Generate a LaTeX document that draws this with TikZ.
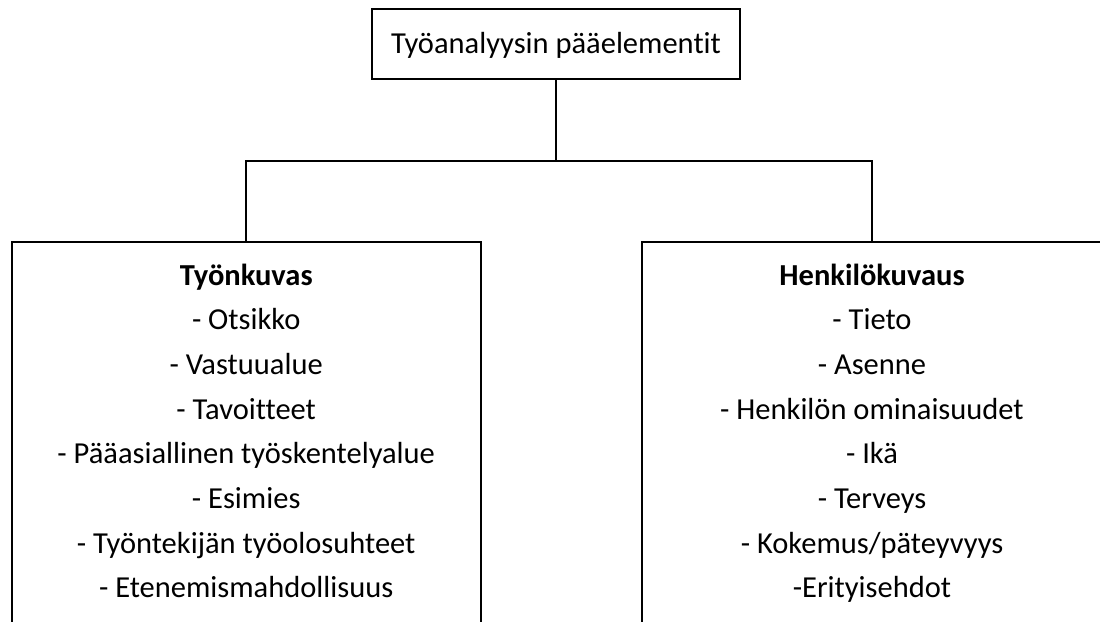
\documentclass[tikz,border=0pt]{standalone}
\usepackage{fontspec}
\setmainfont{Carlito}[Ligatures=NoCommon]
\begin{document}
\begin{tikzpicture}[x=1pt,y=-1pt,
  boxline/.style={draw=black,line width=2.2pt},
  txt/.style={inner sep=0pt,anchor=base,font=\fontsize{30.5}{34}\selectfont},
  ttl/.style={txt,font=\fontsize{30.5}{34}\selectfont\bfseries}]
\useasboundingbox (0,0) rectangle (1100,621);
\clip (0,0) rectangle (1100,621);
\fill[white] (0,0) rectangle (1100,621);
\node[boxline,rectangle,minimum width=368pt,minimum height=70pt,inner sep=0pt] (top) at (556,44) {};
\node[txt] (toptxt) at (556,53) {Työanalyysin pääelementit};
\node[boxline,rectangle,anchor=north,minimum width=469pt,minimum height=500pt,inner sep=0pt] (left) at (246.2,240.7) {};
\node[boxline,rectangle,anchor=north,minimum width=460pt,minimum height=500pt,inner sep=0pt] (right) at (872,240.7) {};
\coordinate (j) at (556,161);
\draw[boxline] (top.south) -- (j);
\draw[boxline] (left.north) -- (left.north |- j) -- (right.north |- j) -- (right.north);
\node[ttl] (L0) at (246.2,285) {Työnkuvas};
\foreach \t [count=\i] in {- Otsikko,- Vastuualue,- Tavoitteet,- Pääasiallinen työskentelyalue,- Esimies,- Työntekijän työolosuhteet,- Etenemismahdollisuus}
  \node[txt] (L\i) at (246.2,285+44.7*\i) {\t};
\node[ttl] (R0) at (872,285) {Henkilökuvaus};
\foreach \t [count=\i] in {- Tieto,- Asenne,- Henkilön ominaisuudet,- Ikä,- Terveys,- Kokemus/päteyvyys,-Erityisehdot}
  \node[txt] (R\i) at (872,285+44.7*\i) {\t};
\end{tikzpicture}
\end{document}
